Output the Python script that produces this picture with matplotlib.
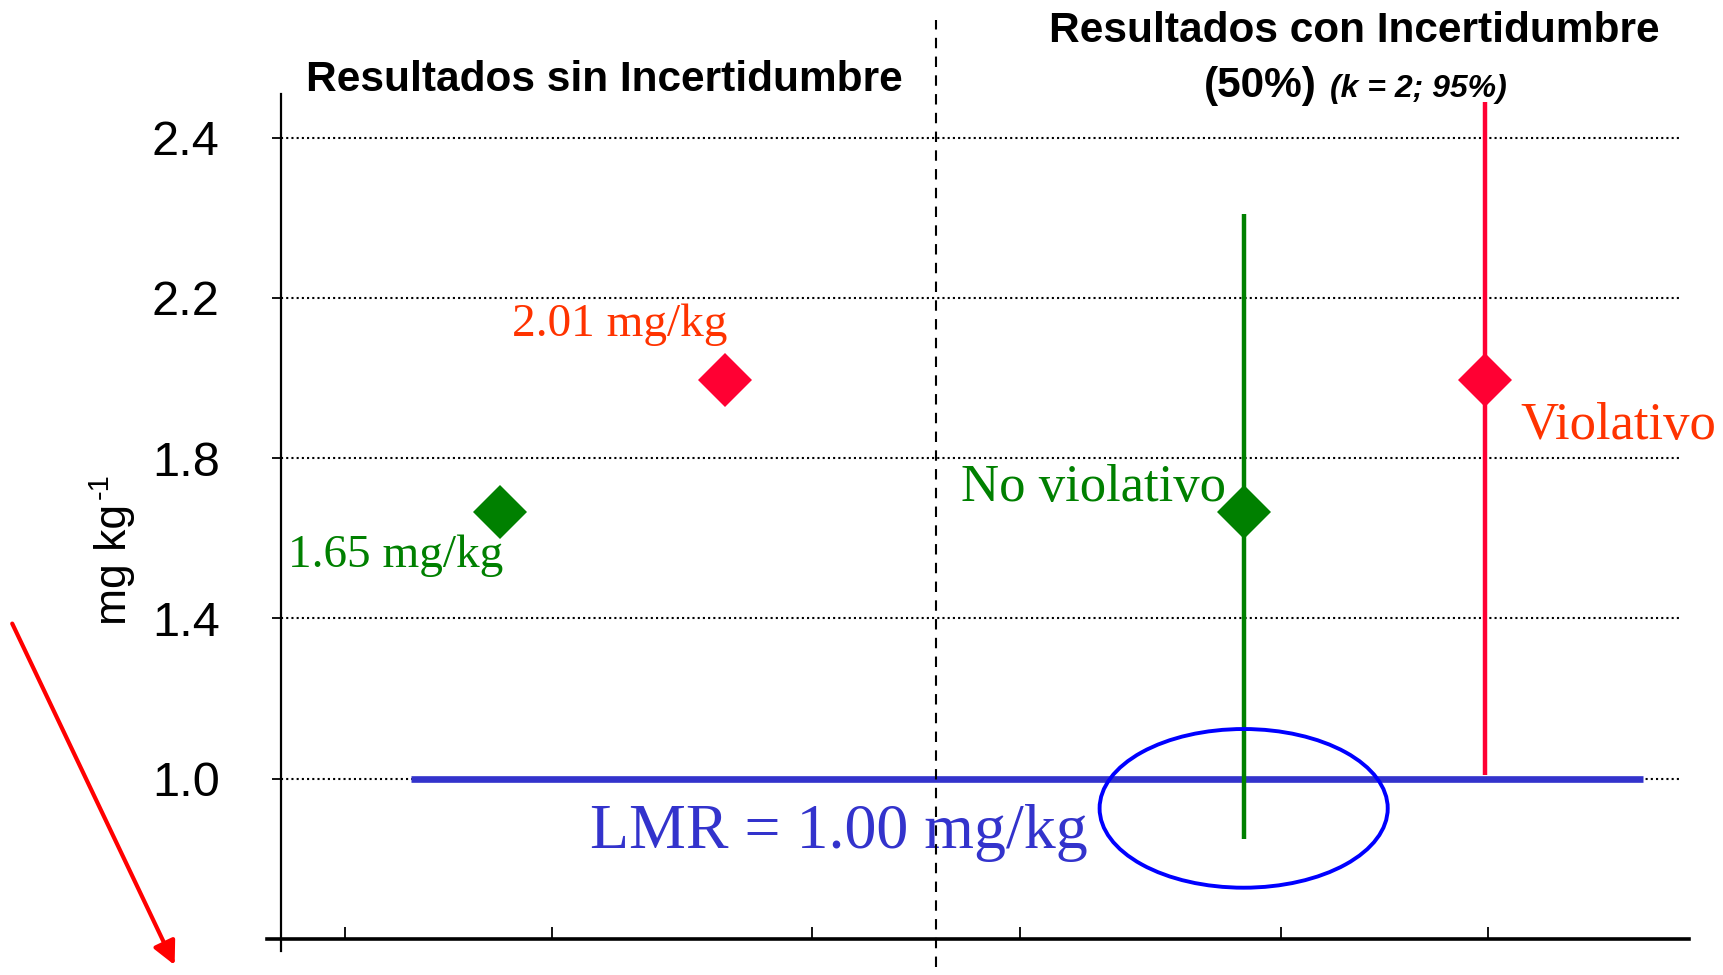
import matplotlib
matplotlib.use("Agg")
import matplotlib.pyplot as plt
from matplotlib.patches import Ellipse, FancyArrowPatch

# ---- data ----
sin_x = [1.55, 3.15]
sin_values = [1.665, 1.995]
sin_colors = ["#008000", "#FF0033"]

con_x = [6.84, 8.55]
con_values = [1.665, 1.995]
con_low = [0.85, 1.01]
con_high = [2.41, 2.69]
con_colors = ["#008000", "#FF0033"]

lmr_value = 1.00
lmr_span = [0.92, 9.67]

y_ticks = [1.0, 1.4, 1.8, 2.2, 2.6]
y_tick_labels = ["1.0", "1.4", "1.8", "2.2", "2.4"]
x_ticks = [0.45, 1.92, 3.77, 5.25, 7.10, 8.57]
divider_x = 4.65

fig = plt.figure(figsize=(17.24, 9.75), dpi=100)
ax = fig.add_axes([0.1551, 0.0246, 0.9797 - 0.1551, 0.9041 - 0.0246])
ax.set_xlim(-0.1, 10.0)
ax.set_ylim(0.57, 2.71)

for s in ["top", "right"]:
    ax.spines[s].set_visible(False)
ax.spines["left"].set_position(("data", 0))
ax.spines["bottom"].set_position(("data", 0.6))
ax.spines["left"].set_linewidth(1.6)
ax.spines["bottom"].set_linewidth(2.6)

ax.set_yticks(y_ticks)
ax.set_yticklabels(y_tick_labels, fontfamily="Liberation Sans", fontsize=35)
ax.tick_params(axis="y", direction="out", length=6.5, width=1.3, pad=38)
ax.set_xticks(x_ticks)
ax.set_xticklabels([])
ax.tick_params(axis="x", direction="in", length=8.5, width=1.3)

# gridlines
ax.hlines(y_ticks, 0, 9.95, colors="black", linestyles=(0, (1, 1.5)), linewidth=1.5, zorder=1)

# LMR line
ax.hlines([lmr_value], lmr_span[0], lmr_span[1], colors="#3333CC", linewidth=4.8, zorder=2)

# error bars
for x, lo, hi, c in zip(con_x, con_low, con_high, con_colors):
    ax.vlines(x, lo, hi, colors=c, linewidth=3.2, zorder=3)

# diamonds
for x, v, c in zip(sin_x + con_x, sin_values + con_values, sin_colors + con_colors):
    ax.plot([x], [v], marker="D", markersize=28, color=c, markeredgewidth=0, zorder=4)

# divider
ax.axvline(divider_x, ymin=-0.019, ymax=1.086, color="black", linestyle=(0, (5, 4)),
           linewidth=1.5, clip_on=False, zorder=6)

# ellipse
ax.add_patch(Ellipse((6.836, 0.926), 2.047, 0.396, fill=False, edgecolor="#0000FF",
                     linewidth=2.8, zorder=5))

serif = "Liberation Serif"
ax.text(2.40, 2.105, "2.01 mg/kg", color="#FF3300", fontfamily=serif, fontsize=34,
        ha="center", va="baseline")
ax.text(0.81, 1.528, "1.65 mg/kg", color="#008000", fontfamily=serif, fontsize=34,
        ha="center", va="baseline")
ax.text(6.71, 1.693, "No violativo", color="#008000", fontfamily=serif, fontsize=38,
        ha="right", va="baseline")
ax.text(8.80, 1.849, "Violativo", color="#FF3300", fontfamily=serif, fontsize=38,
        ha="left", va="baseline", clip_on=False)
ax.text(2.195, 0.827, "LMR = 1.00 mg/kg", color="#3333CC", fontfamily=serif, fontsize=46,
        ha="left", va="baseline", zorder=3)

sans = "Liberation Sans"
fig.text(0.3508, 0.9067, "Resultados sin Incertidumbre", fontfamily=sans, fontweight="bold",
         fontsize=30.5, ha="center", va="baseline")
fig.text(0.7857, 0.957, "Resultados con Incertidumbre", fontfamily=sans, fontweight="bold",
         fontsize=30.5, ha="center", va="baseline")
fig.text(0.6984, 0.9007, "(50%)", fontfamily=sans, fontweight="bold",
         fontsize=30.5, ha="left", va="baseline")
fig.text(0.7717, 0.9007, "(k = 2; 95%)", fontfamily=sans, fontweight="bold", fontstyle="italic",
         fontsize=23, ha="left", va="baseline")

# y-axis label: "mg kg" with superscript "-1"
fig.text(0.0665, 0.359, "mg kg", fontfamily=sans, fontsize=32,
         rotation=90, ha="center", va="bottom")
fig.text(0.0577, 0.488, "-1", fontfamily=sans, fontsize=21,
         rotation=90, ha="center", va="bottom")

arrow = FancyArrowPatch((0.0064, 0.363), (0.102, 0.0076), transform=fig.transFigure,
                        arrowstyle="-|>,head_length=14,head_width=7", color="#FF0000",
                        linewidth=3, mutation_scale=1)
fig.patches.append(arrow)

fig.savefig("out.png", dpi=100)
